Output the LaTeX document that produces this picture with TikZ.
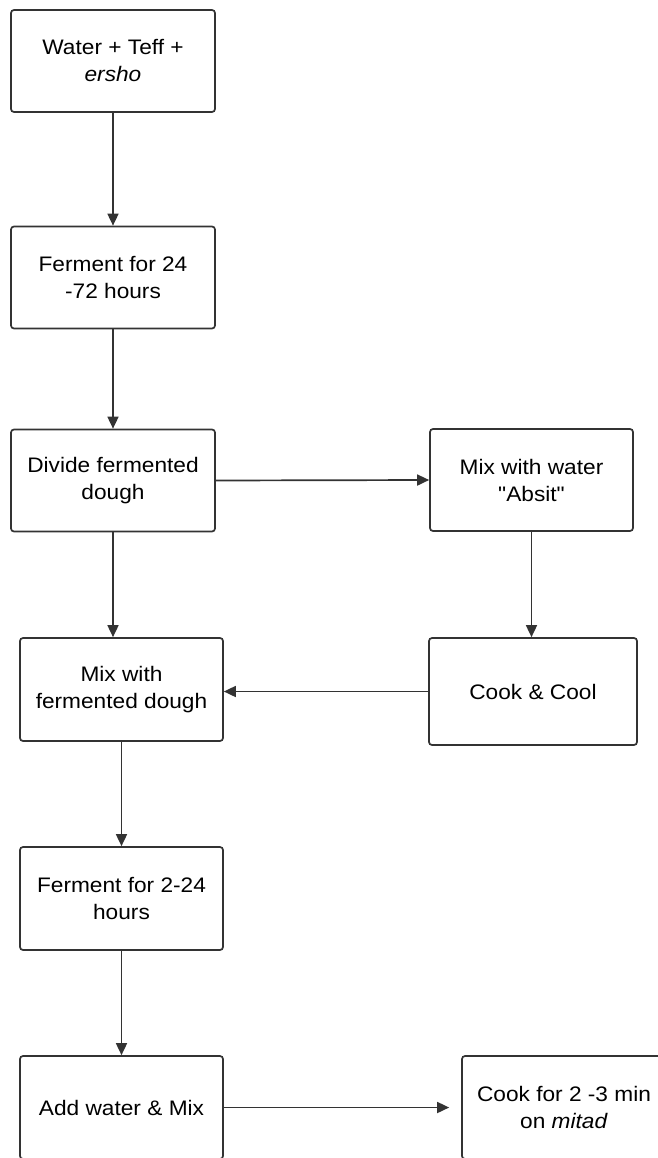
\documentclass[tikz,border=0pt]{standalone}
\usepackage{fontspec}
\setmainfont[FakeStretch=1.08, Ligatures=TeXOff]{Liberation Sans}
\usetikzlibrary{arrows.meta}
\definecolor{ink}{HTML}{333333}
\tikzset{
  box/.style={draw=ink, line width=1.7pt, rounded corners=3pt, fill=white,
    minimum width=204pt, minimum height=102pt, align=center, inner sep=2pt,
    font=\fontsize{21}{27}\selectfont, text=black},
  link/.style={draw=ink, line width=1.7pt, -{Triangle[length=12pt,width=11pt]}}
}
\begin{document}
\begin{tikzpicture}[x=1pt,y=-1pt]
\useasboundingbox (0,0) rectangle (657,1158);
\fill[white] (0,0) rectangle (657,1158);
\node[box] (b1) at (113,61) {Water + Teff +\\\textit{ersho}};
\node[box] (b2) at (113,277.5) {Ferment for 24\\-72 hours};
\node[box] (b3) at (113,480.5) {Divide fermented\\dough};
\node[box, minimum width=203pt] (b4) at (531.5,480) {Mix with water\\"Absit"};
\node[box, minimum width=203pt, minimum height=103pt] (b5) at (121.5,689.5) {Mix with\\fermented dough};
\node[box, minimum width=208pt, minimum height=107pt] (b6) at (533,691.5) {Cook \& Cool};
\node[box, minimum width=203pt, minimum height=103pt] (b7) at (121.5,898.5) {Ferment for 2-24\\hours};
\node[box, minimum width=203pt, minimum height=103pt] (b8) at (121.5,1107.5) {Add water \& Mix};
\node[box, minimum width=204pt, minimum height=103pt] (b9) at (564,1107.5) {Cook for 2 -3 min\\on \textit{mitad}};
\draw[link] (b1.south) -- (b2.north);
\draw[link] (b2.south) -- (b3.north);
\draw[link] (b3.east) -- (b4.west);
\draw[link] (b3.south) -- (b3.south |- b5.north);
\draw[link] (b4.south) -- (b4.south |- b6.north);
\draw[link] (b6.west) -- (b6.west -| b5.east);
\draw[link] (b5.south) -- (b7.north);
\draw[link] (b7.south) -- (b8.north);
\draw[link, shorten >=12pt] (b8.east) -- (b8.east -| b9.west);
\end{tikzpicture}
\end{document}
